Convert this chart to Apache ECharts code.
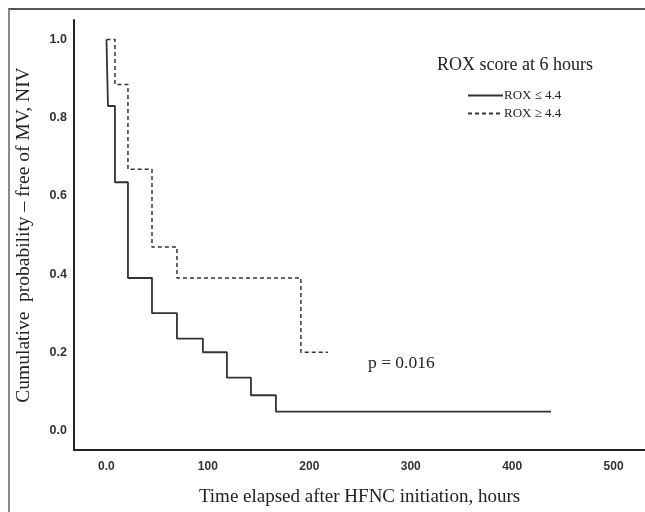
<!DOCTYPE html>
<html>
<head>
<meta charset="utf-8">
<script src="https://cdn.jsdelivr.net/npm/echarts@6/dist/echarts.min.js"></script>
<style>
  html, body { margin: 0; padding: 0; background: #fff; }
  #wrap { position: relative; width: 645px; height: 512px; overflow: hidden; }
  #frame { position: absolute; left: 8px; top: 8px; width: 700px; height: 600px;
           border-left: 2px solid #8a8a8a; border-top: 2px solid #555; }
  #km-chart { position: absolute; left: 0; top: 0; width: 645px; height: 512px; }
</style>
</head>
<body>
<div id="wrap">
  <div id="frame"></div>
  <div id="km-chart"></div>
</div>
<script>
// 生存曲线数据 (小时, 累计概率)
const lowTimes = [0, 1.5, 8.4, 21.2, 44.9, 69.5, 95.1, 118.8, 142.5, 167.1, 438.3];
const lowSurv = [1.0, 0.83, 0.635, 0.39, 0.30, 0.235, 0.2, 0.135, 0.09, 0.048, 0.048];
const highTimes = [0, 8.4, 21.2, 44.9, 69.5, 191.7, 218.4];
const highSurv = [1.0, 0.885, 0.668, 0.469, 0.39, 0.2, 0.2];
// 刻度
const xTicks = [0, 100, 200, 300, 400, 500];
const yTicks = [0, 0.2, 0.4, 0.6, 0.8, 1.0];

const serif = "Liberation Serif";
const sans = "Liberation Sans";

const toPairs = (xs, ys) => xs.map((x, i) => [x, ys[i]]);

let Mychart = echarts.init(document.getElementById("km-chart"));
const option = {
  animation: false,
  title: [
    {
      text: "ROX score at 6 hours",
      left: 432,
      top: 51,
      textStyle: { fontFamily: serif, fontSize: 18, fontWeight: "normal", color: "#222" },
    },
    {
      text: "p = 0.016",
      left: 363,
      top: 349,
      textStyle: { fontFamily: serif, fontSize: 17.5, fontWeight: "normal", color: "#222" },
    },
  ],
  legend: {
    orient: "vertical",
    left: 462,
    top: 84,
    itemWidth: 35,
    itemHeight: 14,
    itemGap: 5,
    itemStyle: { opacity: 0 },
    textStyle: { fontFamily: serif, fontSize: 13, color: "#222", padding: [0, 0, 0, -4] },
    data: ["ROX ≤ 4.4", "ROX ≥ 4.4"],
  },
  grid: { left: 74, right: 0, top: 20, bottom: 56, containLabel: false },
  xAxis: {
    type: "value",
    min: -32,
    max: 531,
    name: "Time elapsed after HFNC initiation, hours",
    nameLocation: "middle",
    nameGap: 38,
    nameTextStyle: { fontFamily: serif, fontSize: 19, color: "#222" },
    axisLine: { onZero: false, lineStyle: { color: "#222", width: 2 } },
    axisTick: { show: false },
    splitLine: { show: false },
    axisLabel: {
      customValues: xTicks,
      margin: 11,
      fontFamily: sans,
      fontSize: 12,
      fontWeight: "bold",
      color: "#333",
      formatter: (v) => (v === 0 ? "0.0" : String(v)),
    },
  },
  yAxis: {
    type: "value",
    min: -0.05,
    max: 1.05,
    name: "Cumulative  probability – free of MV, NIV",
    nameLocation: "middle",
    nameGap: 40,
    nameTextStyle: { fontFamily: serif, fontSize: 19.5, color: "#222" },
    axisLine: { show: true, onZero: false, lineStyle: { color: "#222", width: 2 } },
    axisTick: { show: false },
    splitLine: { show: false },
    axisLabel: {
      customValues: yTicks,
      margin: 7,
      fontFamily: sans,
      fontSize: 12.5,
      fontWeight: "bold",
      color: "#333",
      formatter: (v) => v.toFixed(1),
    },
  },
  series: [
    {
      name: "ROX ≤ 4.4",
      type: "line",
      step: "end",
      symbol: "none",
      data: toPairs(lowTimes, lowSurv),
      lineStyle: { color: "#333", width: 1.8, type: "solid" },
      itemStyle: { color: "#333" },
    },
    {
      name: "ROX ≥ 4.4",
      type: "line",
      step: "end",
      symbol: "none",
      data: toPairs(highTimes, highSurv),
      lineStyle: { color: "#333", width: 1.5, type: [4, 3] },
      itemStyle: { color: "#333" },
    },
  ],
};
Mychart.setOption(option);
</script>
</body>
</html>
